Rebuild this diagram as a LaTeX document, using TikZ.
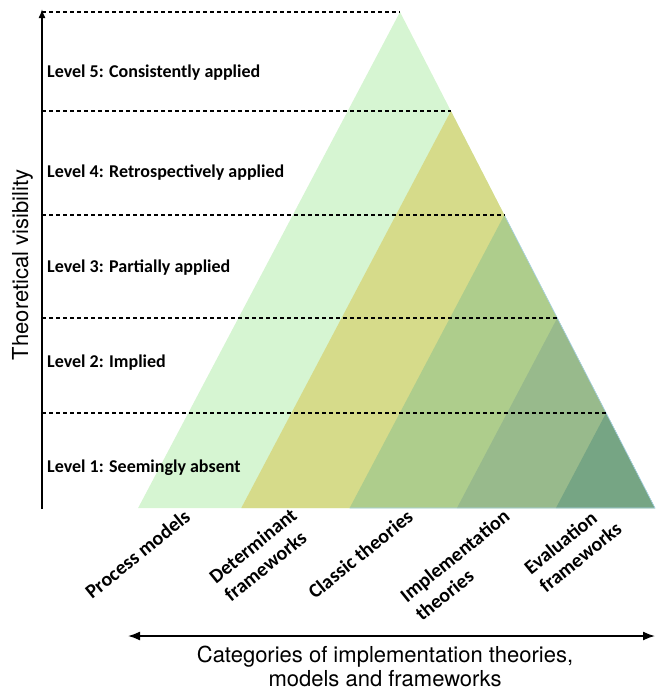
\documentclass[tikz,border=0pt]{standalone}
\usepackage{xcolor}
\usepackage{fontspec}
\setmainfont{Carlito}
\newfontfamily\helvfont{TeX Gyre Heros}
\usepackage{tikz}
\usetikzlibrary{arrows.meta}
\definecolor{pmgreen}{HTML}{D6F5D2}
\definecolor{dfyellow}{HTML}{D6DB8A}
\definecolor{ctgreen}{HTML}{AECD8C}
\definecolor{itgreen}{HTML}{98BA8C}
\definecolor{efgreen}{HTML}{76A584}
\definecolor{edgeblue}{HTML}{A8D2EC}

\begin{document}
\begin{tikzpicture}[x=1pt,y=-1pt,
    level/.style={anchor=base west,inner sep=0pt,font=\fontsize{18}{22}\selectfont\bfseries},
    cat/.style={anchor=base west,inner sep=0pt,rotate=39,align=left,font=\fontsize{20}{24}\selectfont\bfseries},
    levelline/.style={dash pattern=on 4pt off 3pt,line width=1.3pt}]
    \useasboundingbox (0,0) rectangle (656,691);
    %画布大小(bounding box)与原图一致
    \foreach \y/\c in {12/pmgreen,111/dfyellow,215/ctgreen,318/itgreen,413/efgreen}
        {\fill[\c] ({400+0.514*(\y-12)},\y) -- ({400+0.514*(\y-12)-0.528*(508-\y)},508) -- (655,508) -- cycle;}
    %五个三角形(fill),顶点在右边上,左边互相平行,颜色(\c)逐层加深
    \draw[edgeblue,line width=0.6pt] ({400+0.514*203},215) -- (655,508) -- ({400+0.514*203-0.528*293},508);
    %右下的浅蓝色边线
    \foreach \y in {12,111,215,318,413} {\draw[levelline] (42,\y) -- ({400+0.514*(\y-12)},\y);}
    %各层的虚线(levelline),从纵轴画到三角形右边
    \coordinate (yorig) at (42,509);
    \coordinate (ytop) at (42,9);
    \draw[-{Latex[length=9pt,width=7pt]},line width=1.6pt] (yorig) -- (ytop);
    %纵轴(draw),线到箭头
    \node[rotate=90,anchor=base,font=\helvfont\fontsize{22}{24}\selectfont] (yname) at (28,265) {Theoretical visibility};
    %纵轴文字,旋转(rotate)90度
    \node[level] (lv5) at (47,77) {Level 5: Consistently applied};
    \node[level] (lv4) at (47,177) {Level 4: Retrospectively applied};
    \node[level] (lv3) at (47,272) {Level 3: Partially applied};
    \node[level] (lv2) at (47,367) {Level 2: Implied};
    \node[level] (lv1) at (47,472) {Level 1: Seemingly absent};
    %五个层级的文字(level),左对齐
    \node[cat] (pm) at (92,600) {Process models};
    \node[cat] (df) at (231,603) {Determinant\\frameworks};
    \node[cat] (ct) at (315,600) {Classic theories};
    \node[cat] (it) at (422,622) {Implementation\\theories};
    \node[cat] (ef) at (546,594) {Evaluation\\frameworks};
    %三角形下方的类别文字(cat),斜放(rotate=39),基线在第二行
    \coordinate (xleft) at (128,636);
    \coordinate (xright) at (655,636);
    \draw[{Latex[length=12pt,width=9pt]}-{Latex[length=12pt,width=9pt]},line width=1.6pt] (xleft) -- (xright);
    %横轴(draw),两端箭头
    \node[anchor=base,align=center,font=\helvfont\fontsize{22}{24}\selectfont] (xname) at (385,686) {Categories of implementation theories,\\models and frameworks};
    %横轴文字,居中(center),基线在第二行
\end{tikzpicture}
\end{document}
